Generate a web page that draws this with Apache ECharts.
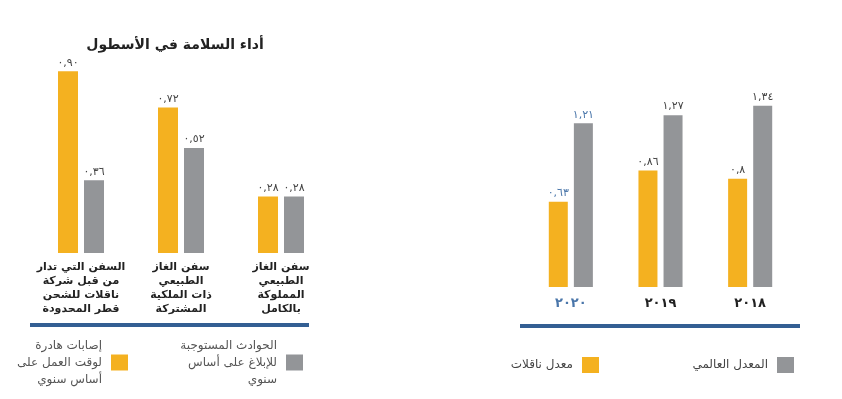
<!DOCTYPE html>
<html>
<head>
<meta charset="utf-8">
<script src="https://cdn.jsdelivr.net/npm/echarts@6/dist/echarts.min.js"></script>
<style>
  html, body { margin: 0; padding: 0; background: #fff; }
  #chart { width: 842px; height: 399px; }
</style>
</head>
<body>
<div id="chart"></div>
<script>
// fleet safety panel (left)
const fleetCategories = [
  'السفن التي تدار\nمن قبل شركة\nناقلات للشحن\nقطر المحدودة',
  'سفن الغاز\nالطبيعي\nذات الملكية\nالمشتركة',
  'سفن الغاز\nالطبيعي\nالمملوكة\nبالكامل'
]
const fleetInjury = [0.90, 0.72, 0.28]
const fleetInjuryLabels = ['٠,٩٠', '٠,٧٢', '٠,٢٨']
const fleetIncidents = [0.36, 0.52, 0.28]
const fleetIncidentLabels = ['٠,٣٦', '٠,٥٢', '٠,٢٨']

// yearly comparison panel (right)
const years = ['٢٠٢٠', '٢٠١٩', '٢٠١٨']
const nakilatRate = [0.63, 0.86, 0.8]
const nakilatLabels = ['٠,٦٣', '٠,٨٦', '٠,٨']
const globalRate = [1.21, 1.27, 1.34]
const globalLabels = ['١,٢١', '١,٢٧', '١,٣٤']

const ORANGE = '#f4b120'
const GREY = '#939598'
const BLUE = '#4a76aa'
const FONT = 'DejaVu Sans'

const chart = echarts.init(document.getElementById('chart'))

const withLabels = (values, labels, highlightFirst) =>
  values.map((v, i) => ({
    value: v,
    label: {
      formatter: labels[i],
      color: highlightFirst && i === 0 ? BLUE : '#444'
    }
  }))

const barLabel = {
  show: true,
  position: 'top',
  distance: 3,
  fontFamily: FONT,
  fontSize: 11
}

const legendBase = {
  align: 'right',
  icon: 'rect',
  itemWidth: 17,
  itemHeight: 16,
  selectedMode: false
}

const option = {
  animation: false,
  title: {
    text: 'أداء السلامة في الأسطول',
    left: 170,
    top: 33,
    textAlign: 'center',
    textStyle: { fontFamily: FONT, fontSize: 14, fontWeight: 'bold', color: '#222' }
  },
  grid: [
    { left: 31, width: 300, top: 51, height: 202 },
    { left: 526, width: 269, top: 84, height: 203 }
  ],
  xAxis: [
    {
      type: 'category',
      gridIndex: 0,
      data: fleetCategories,
      axisLine: { show: false },
      axisTick: { show: false },
      axisLabel: {
        margin: 7,
        fontFamily: FONT,
        fontSize: 11,
        fontWeight: 'bold',
        lineHeight: 14,
        color: '#222',
        interval: 0
      }
    },
    {
      type: 'category',
      gridIndex: 1,
      data: years,
      axisLine: { show: false },
      axisTick: { show: false },
      axisLabel: {
        margin: 10,
        fontFamily: FONT,
        fontSize: 13,
        fontWeight: 'bold',
        color: (value, index) => (index === 0 ? BLUE : '#222')
      }
    }
  ],
  yAxis: [
    { type: 'value', gridIndex: 0, min: 0, max: 1, show: false },
    { type: 'value', gridIndex: 1, min: 0, max: 1.5, show: false }
  ],
  legend: [
    Object.assign({}, legendBase, {
      data: ['إصابات هادرة\nلوقت العمل على\nأساس سنوي'],
      right: 709,
      top: 332,
      textStyle: { fontFamily: FONT, fontSize: 12, lineHeight: 17, color: '#555', padding: [0, 4, 0, 0] }
    }),
    Object.assign({}, legendBase, {
      data: ['الحوادث المستوجبة\nللإبلاغ على أساس\nسنوي'],
      right: 534,
      top: 332,
      textStyle: { fontFamily: FONT, fontSize: 12, lineHeight: 17, color: '#555', padding: [0, 4, 0, 0] }
    }),
    Object.assign({}, legendBase, {
      data: ['معدل ناقلات'],
      right: 238,
      top: 352,
      textStyle: { fontFamily: FONT, fontSize: 12, color: '#444', padding: [0, 4, 0, 0] }
    }),
    Object.assign({}, legendBase, {
      data: ['المعدل العالمي'],
      right: 43,
      top: 352,
      textStyle: { fontFamily: FONT, fontSize: 12, color: '#444', padding: [0, 4, 0, 0] }
    })
  ],
  series: [
    {
      name: 'إصابات هادرة\nلوقت العمل على\nأساس سنوي',
      type: 'bar',
      xAxisIndex: 0,
      yAxisIndex: 0,
      barWidth: 20,
      barGap: '30%',
      itemStyle: { color: ORANGE },
      label: barLabel,
      data: withLabels(fleetInjury, fleetInjuryLabels, false)
    },
    {
      name: 'الحوادث المستوجبة\nللإبلاغ على أساس\nسنوي',
      type: 'bar',
      xAxisIndex: 0,
      yAxisIndex: 0,
      barWidth: 20,
      barGap: '30%',
      itemStyle: { color: GREY },
      label: barLabel,
      data: withLabels(fleetIncidents, fleetIncidentLabels, false)
    },
    {
      name: 'معدل ناقلات',
      type: 'bar',
      xAxisIndex: 1,
      yAxisIndex: 1,
      barWidth: 19,
      barGap: '32%',
      itemStyle: { color: ORANGE },
      label: barLabel,
      data: withLabels(nakilatRate, nakilatLabels, true)
    },
    {
      name: 'المعدل العالمي',
      type: 'bar',
      xAxisIndex: 1,
      yAxisIndex: 1,
      barWidth: 19,
      barGap: '32%',
      itemStyle: { color: GREY },
      label: barLabel,
      data: withLabels(globalRate, globalLabels, true)
    }
  ],
  // blue separator rules under each panel
  graphic: [
    { type: 'rect', shape: { x: 30, y: 323, width: 279, height: 4 }, style: { fill: '#335f93' } },
    { type: 'rect', shape: { x: 520, y: 324, width: 280, height: 4 }, style: { fill: '#335f93' } }
  ]
}

chart.setOption(option)

window.addEventListener('resize', () => {
  chart.resize()
})
</script>
</body>
</html>
